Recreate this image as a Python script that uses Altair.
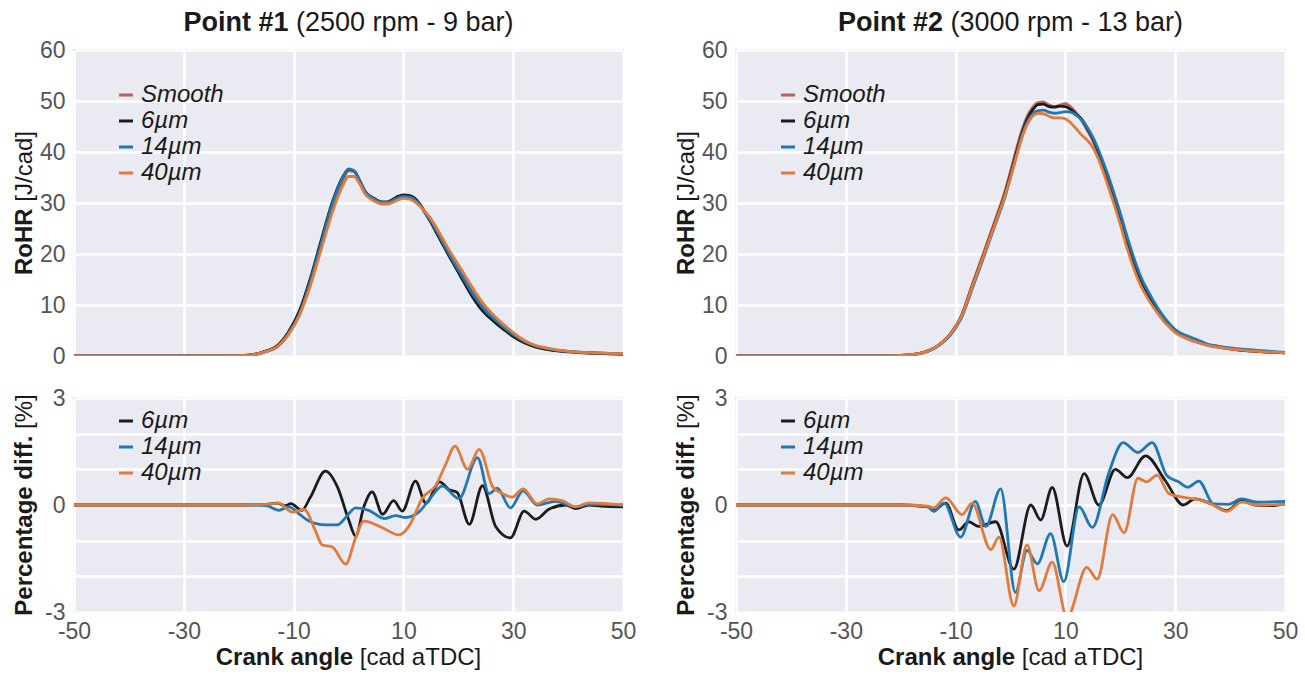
import altair as alt
import pandas as pd

# ---------------- data ----------------
SERIES_ALL = ["Smooth", "6µm", "14µm", "40µm"]
COLORS_ALL = ["#b5655a", "#1c1c1c", "#1f77b4", "#e07b3c"]
SERIES_DIFF = ["6µm", "14µm", "40µm"]
COLORS_DIFF = ["#1c1c1c", "#1f77b4", "#e07b3c"]

X_TICKS = [-50, -30, -10, 10, 30, 50]
Y_TICKS_TOP = [0, 10, 20, 30, 40, 50, 60]
Y_TICKS_BOT = [-3, -2, -1, 0, 1, 2, 3]

# Point #1 RoHR [J/cad]
ca_p1 = [-50, -30, -20, -17, -15, -13, -11, -9, -7, -5,
         -3, -1, 0, 1, 2, 3, 4, 5, 6, 7,
         8, 9, 10, 11, 12, 13, 14, 15, 16, 17,
         18, 19, 20, 21, 22, 23, 24, 25, 26, 27,
         28, 29, 30, 32, 34, 36, 38, 40, 45, 50]
p1_smooth = [0, 0, 0.05, 0.3, 0.9, 1.8, 4.2, 8, 14, 21.5,
             29, 34.5, 36.3, 36.2, 34.5, 32.3, 31.2, 30.6, 30.1, 30.0,
             30.4, 31.0, 31.3, 31.2, 30.6, 29.6, 28.2, 26.8, 24.9, 22.9,
             20.9, 19.0, 17.2, 15.4, 13.6, 11.9, 10.3, 9.0, 7.9, 6.9,
             6.0, 5.1, 4.3, 2.9, 2.0, 1.5, 1.1, 0.9, 0.6, 0.4]
p1_6um = [0, 0, 0.05, 0.35, 1.0, 2.0, 4.6, 8.7, 15, 22.6,
          30, 35.2, 36.6, 36.3, 34.4, 32.3, 31.3, 30.7, 30.2, 30.2,
          30.7, 31.3, 31.6, 31.5, 31.0, 29.8, 28.0, 26.2, 24.2, 22.2,
          20.2, 18.3, 16.4, 14.5, 12.6, 10.9, 9.4, 8.2, 7.2, 6.3,
          5.4, 4.6, 3.8, 2.6, 1.8, 1.3, 1.0, 0.8, 0.5, 0.3]
p1_14um = [0, 0, 0.05, 0.3, 0.9, 1.8, 4.3, 8.2, 14.4, 22,
           29.6, 35, 36.7, 36.3, 34.5, 32.3, 31.2, 30.6, 30.1, 30.1,
           30.5, 31.0, 31.3, 31.2, 30.7, 29.6, 28.0, 26.5, 24.6, 22.6,
           20.6, 18.7, 16.9, 15.1, 13.3, 11.6, 10.1, 8.8, 7.8, 6.8,
           5.9, 5.0, 4.2, 2.9, 2.0, 1.5, 1.1, 0.9, 0.6, 0.4]
p1_40um = [0, 0, 0.05, 0.3, 0.9, 1.8, 4.1, 7.8, 13.6, 20.8,
           28, 33.5, 35.2, 35.2, 33.8, 31.8, 30.8, 30.2, 29.8, 29.8,
           30.1, 30.6, 30.9, 30.8, 30.3, 29.4, 28.2, 26.9, 25.2, 23.3,
           21.4, 19.6, 17.9, 16.2, 14.4, 12.7, 11.1, 9.7, 8.5, 7.4,
           6.4, 5.5, 4.6, 3.1, 2.1, 1.6, 1.2, 0.9, 0.6, 0.4]

# Point #2 RoHR [J/cad]
ca_p2 = [-50, -25, -20, -17, -15, -13, -11, -9, -7, -5,
         -3, -1, 0, 1, 2, 3, 4, 5, 6, 7,
         8, 9, 10, 11, 12, 13, 14, 15, 16, 17,
         18, 19, 20, 21, 22, 23, 24, 25, 26, 27,
         28, 29, 30, 32, 34, 36, 38, 40, 45, 50]
p2_smooth = [0, 0, 0.1, 0.4, 1.0, 2.2, 4.3, 7.8, 13.9, 19.9,
             26.0, 32.3, 36.2, 40.3, 44.0, 46.9, 48.7, 49.7, 49.8, 49.2,
             48.9, 49.2, 49.5, 48.8, 47.6, 46.1, 44.2, 42.2, 39.6, 36.7,
             33.6, 30.3, 26.8, 23.0, 19.5, 16.4, 13.8, 11.8, 10.0, 8.4,
             6.9, 5.7, 4.7, 3.5, 2.7, 2.1, 1.7, 1.4, 0.9, 0.6]
p2_6um = [0, 0, 0.1, 0.4, 1.0, 2.2, 4.2, 7.6, 13.6, 19.5,
          25.6, 31.8, 35.5, 39.5, 43.3, 46.3, 48.2, 49.3, 49.4, 48.9,
          48.8, 49.0, 48.9, 48.3, 47.4, 46.4, 44.6, 42.6, 40.0, 37.0,
          34.0, 30.7, 27.2, 23.4, 19.8, 16.6, 14.0, 12.0, 10.2, 8.5,
          7.0, 5.8, 4.8, 3.6, 2.8, 2.2, 1.8, 1.4, 0.9, 0.6]
p2_14um = [0, 0, 0.1, 0.4, 0.95, 2.1, 4.0, 7.3, 13.1, 19.0,
           25.1, 31.2, 35.0, 39.0, 42.8, 45.7, 47.4, 48.1, 48.2, 47.8,
           47.6, 47.7, 47.9, 47.8, 47.2, 46.3, 44.8, 42.9, 40.5, 37.7,
           34.7, 31.4, 28.0, 24.3, 20.8, 17.6, 14.9, 12.8, 10.9, 9.1,
           7.6, 6.3, 5.2, 4.0, 3.2, 2.3, 1.9, 1.6, 1.1, 0.7]
p2_40um = [0, 0, 0.1, 0.4, 1.0, 2.2, 4.2, 7.6, 13.5, 19.4,
           25.4, 31.5, 35.0, 38.8, 42.5, 45.3, 47.0, 47.6, 47.5, 47.0,
           46.7, 46.7, 46.5, 45.7, 44.5, 43.3, 42.3, 40.9, 38.7, 35.8,
           32.6, 29.3, 25.8, 22.0, 18.6, 15.6, 13.2, 11.3, 9.6, 8.1,
           6.7, 5.6, 4.6, 3.5, 2.7, 2.1, 1.7, 1.4, 0.9, 0.6]

# Point #1 percentage difference [%]
d1_6um_ca = [-50, -20, -15, -13, -11.5, -10.5, -8.5, -7, -4.2, -2, 0, 1.3, 2.8, 4.3, 6.2,
             8.2, 9.8, 12.2, 14.1, 16.6, 18.3, 19.8, 22, 24.4, 26.8, 29.5, 32, 34.1,
             36.5, 39.6, 41.4, 43.8, 46, 50]
d1_6um = [0, 0, 0.02, 0.05, -0.02, 0.04, -0.15, 0.2, 0.95, 0.5, -0.4, -0.87, -0.05, 0.37, -0.26,
          0.12, -0.17, 0.67, 0.05, 0.65, 0.43, 0.35, -0.54, 0.54, -0.6, -0.92, -0.17, -0.4,
          -0.12, 0, -0.1, 0, -0.03, -0.05]
d1_14um_ca = [-50, -20, -15, -12.7, -10.8, -9, -7.2, -4.2, -2, -0.5, 1.3, 3.7, 6.5, 8.6, 10.4,
              12.8, 14.7, 17.1, 20.1, 23.5, 25.6, 27.1, 29.5, 31.8, 34.4, 37.7, 41.4, 43.8, 50]
d1_14um = [0, 0, -0.02, -0.15, -0.05, -0.25, -0.45, -0.56, -0.56, -0.35, -0.08, -0.15, -0.38, -0.3, -0.35,
           -0.2, 0.15, 0.53, 0.18, 1.33, 0.32, 0.47, -0.08, 0.4, 0, 0.1, -0.05, 0.02, 0]
d1_40um_ca = [-50, -20, -15, -12.7, -10.2, -8.1, -6, -4.8, -3, -0.5, 1.3, 2.8, 6.2, 9.2, 11,
              13.5, 15.9, 17.7, 19.4, 21.7, 23.8, 26.3, 27.7, 29.8, 31.8, 34.4, 36.5, 38.9,
              41.4, 43.8, 50]
d1_40um = [0, 0, 0.02, 0.05, -0.2, -0.12, -0.73, -1.12, -1.17, -1.66, -0.92, -0.45, -0.64, -0.84, -0.6,
           0.2, 0.55, 1.14, 1.65, 1.0, 1.56, 0.5, 0.35, 0.22, 0.45, 0.03, 0.17, 0.12,
           -0.05, 0.06, 0]

# Point #2 percentage difference [%]
d2_6um_ca = [-50, -20, -15, -14, -11.8, -9.4, -7.6, -5.8, -2.7, 0.6, 3.7, 5.5, 7.6, 10.3,
             13.4, 16.1, 19.1, 21.3, 24.6, 28.2, 31.5, 33.6, 36.6, 39.4, 42.1, 44.6, 47.6, 50]
d2_6um = [0, 0, -0.05, -0.14, 0.05, -0.7, -0.47, -0.6, -0.47, -1.8, 0, -0.42, 0.49, -1.15,
          0.88, 0, 1.0, 0.77, 1.38, 0.68, 0, 0.17, 0.03, -0.16, 0.12, 0, -0.02, 0.03]
d2_14um_ca = [-50, -20, -15, -14, -12.1, -9.1, -6.4, -4.5, -1.8, 0.9, 3, 4.9, 7.3, 9.7,
              12.5, 14.9, 17.9, 20.5, 23.2, 25.8, 28.5, 30.6, 32.3, 34.3, 37, 39.7, 42.1, 45.1, 50]
d2_14um = [0, 0, -0.05, -0.18, 0.05, -0.9, 0.1, -0.6, 0.45, -2.45, -1.27, -1.65, -0.8, -2.15,
           -0.05, -0.63, 0.9, 1.75, 1.47, 1.75, 0.82, 0.65, 0.5, 0.67, 0.03, 0.02, 0.17, 0.08, 0.1]
d2_40um_ca = [-50, -20, -15, -14, -11.8, -8.8, -7, -3.6, -2.1, 0.6, 3, 5.2, 7.6, 10.3,
              13.9, 15.8, 18.6, 20.7, 23.2, 24.8, 26.7, 28.8, 31.3, 34.3, 36.6, 39.4, 42.1, 45.1, 50]
d2_40um = [0, 0, -0.03, -0.08, 0.2, -0.27, 0.05, -1.25, -0.9, -2.83, -1.12, -2.4, -1.6, -3.15,
           -1.75, -2.08, -0.27, -0.78, 0.75, 0.65, 0.84, 0.33, 0.22, 0.15, 0.03, -0.18, 0.08, 0, 0.02]

# ---------------- layout / style ----------------
FONT = "Liberation Sans"
W = 549
H_TOP = 306
H_BOT = 214
TXT = "#1a1a1a"
TICK = "#555555"
TITLE_SIZE = 27
AXT_SIZE = 24
TICK_SIZE = 23
LEG_SIZE = 24

REG = {' ': 278, '(': 333, ')': 333, 'r': 333, 'p': 556, 'm': 833, '-': 333, 'b': 556,
       'a': 556, '[': 278, ']': 278, 'c': 500, 'd': 556, 'T': 611, 'D': 722, 'C': 722,
       'J': 500, '/': 278, '%': 889}
BOLD = {'P': 667, 'o': 611, 'i': 278, 'n': 611, 't': 333, ' ': 278, '#': 556, 'R': 722,
        'H': 722, 'e': 556, 'r': 389, 'c': 556, 'a': 556, 'g': 611, 'd': 611, 'f': 333,
        '.': 278, 'C': 722, 'k': 556, 'l': 278}


def text_w(s, size, bold):
    table = BOLD if bold else REG
    return sum(table.get(ch, 556) for ch in s) * size / 1000.0


def long_df(items):
    frames = []
    for name, xs, ys in items:
        frames.append(pd.DataFrame({"ca": xs, "v": ys, "s": name}))
    return pd.concat(frames, ignore_index=True)


def txt(s, x, y, size, bold, angle=0):
    return alt.Chart(pd.DataFrame({"t": [s]})).mark_text(
        align="left", baseline="middle", font=FONT, fontSize=size,
        fontWeight="bold" if bold else "normal", color=TXT, angle=angle
    ).encode(text="t:N", x=alt.value(x), y=alt.value(y))


def h_title(bold, reg, cx, y, size):
    wb = text_w(bold, size, True)
    ws = text_w(" ", size, False)
    wr = text_w(reg, size, False)
    x0 = cx - (wb + ws + wr) / 2
    return [txt(bold, x0, y, size, True), txt(reg, x0 + wb + ws, y, size, False)]


def v_title(bold, reg, x, cy, size):
    wb = text_w(bold, size, True)
    ws = text_w(" ", size, False)
    wr = text_w(reg, size, False)
    y0 = cy + (wb + ws + wr) / 2
    return [txt(bold, x, y0, size, True, 270), txt(reg, x, y0 - wb - ws, size, False, 270)]


def panel(df, series, colors, top, title=None):
    h = H_TOP if top else H_BOT
    x_axis = alt.Axis(values=X_TICKS, labels=not top, labelExpr="'' + datum.value",
                      labelFlush=False,
                      title=None, ticks=False, domain=False, grid=True,
                      gridColor="white", gridWidth=2.5, labelFont=FONT,
                      labelFontSize=TICK_SIZE, labelColor=TICK, labelPadding=8)
    if top:
        y_scale = alt.Scale(domain=[0, 60], nice=False, zero=False)
        y_vals, y_expr = Y_TICKS_TOP, "'' + datum.value"
        leg_y = 33
    else:
        y_scale = alt.Scale(domain=[-3, 3], nice=False, zero=False)
        y_vals, y_expr = Y_TICKS_BOT, "datum.value % 3 == 0 ? '' + datum.value : ''"
        leg_y = 11
    y_axis = alt.Axis(values=y_vals, labelExpr=y_expr, title=None, ticks=False, domain=False,
                      labelFlush=False,
                      grid=True, gridColor="white", gridWidth=2.5, labelFont=FONT,
                      labelFontSize=TICK_SIZE, labelColor=TICK, labelPadding=9)
    lines = alt.Chart(df).mark_line(strokeWidth=2.8, interpolate="monotone", clip=True).encode(
        x=alt.X("ca:Q", scale=alt.Scale(domain=[-50, 50], nice=False, zero=False), axis=x_axis),
        y=alt.Y("v:Q", scale=y_scale, axis=y_axis),
        color=alt.Color("s:N", scale=alt.Scale(domain=series, range=colors),
                        legend=alt.Legend(title=None, orient="none", legendX=40, legendY=leg_y,
                                          labelFont=FONT, labelFontSize=LEG_SIZE,
                                          labelFontStyle="italic", labelColor=TXT,
                                          symbolType="stroke", symbolStrokeWidth=3,
                                          symbolSize=196, rowPadding=2, labelOffset=3,
                                          padding=0)),
    )
    layers = [lines]
    if top:
        layers += h_title(title[0], title[1], W / 2, -27, TITLE_SIZE)
        layers += v_title("RoHR", "[J/cad]", -49, h / 2, AXT_SIZE)
    else:
        layers += v_title("Percentage diff.", "[%]", -49, h / 2, AXT_SIZE)
        layers += h_title("Crank angle", "[cad aTDC]", W / 2, h + 46, AXT_SIZE)
    return alt.layer(*layers).properties(width=W, height=h)


df_p1 = long_df([("Smooth", ca_p1, p1_smooth), ("6µm", ca_p1, p1_6um),
                 ("14µm", ca_p1, p1_14um), ("40µm", ca_p1, p1_40um)])
df_p2 = long_df([("Smooth", ca_p2, p2_smooth), ("6µm", ca_p2, p2_6um),
                 ("14µm", ca_p2, p2_14um), ("40µm", ca_p2, p2_40um)])
df_d1 = long_df([("6µm", d1_6um_ca, d1_6um), ("14µm", d1_14um_ca, d1_14um),
                 ("40µm", d1_40um_ca, d1_40um)])
df_d2 = long_df([("6µm", d2_6um_ca, d2_6um), ("14µm", d2_14um_ca, d2_14um),
                 ("40µm", d2_40um_ca, d2_40um)])

tl = panel(df_p1, SERIES_ALL, COLORS_ALL, True, ("Point #1", "(2500 rpm - 9 bar)"))
tr = panel(df_p2, SERIES_ALL, COLORS_ALL, True, ("Point #2", "(3000 rpm - 13 bar)"))
bl = panel(df_d1, SERIES_DIFF, COLORS_DIFF, False)
br = panel(df_d2, SERIES_DIFF, COLORS_DIFF, False)

chart = alt.concat(
    tl, tr, bl, br, columns=2,
    spacing=alt.RowColnumber(row=42, column=113), bounds="flush",
).resolve_scale(color="independent").resolve_legend(color="independent").properties(
    padding={"left": 11, "top": 8, "right": 3, "bottom": 1},
    background="white",
).configure_view(fill="#eaeaf2", stroke="#d4d4d4", strokeWidth=2)

chart.save("out.html", embed_options={"renderer": "svg", "actions": False})
